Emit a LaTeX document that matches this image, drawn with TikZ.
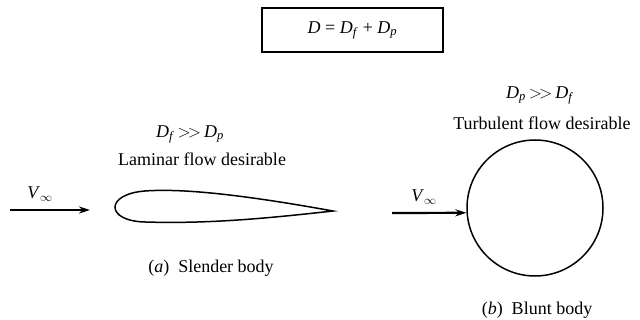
\documentclass[tikz,border=0pt]{standalone}
\usepackage{fontspec}
\setmainfont{Liberation Serif}
\usetikzlibrary{arrows.meta}

\newcommand{\qty}[2]{\textit{#1}\textsubscript{\textit{#2}}}
\newcommand{\much}{\kern3pt${>}\mkern-3mu{>}$\kern3pt}

\tikzset{
  flowarrow/.style={-{Stealth[length=11pt,width=7pt]}, line width=2.2pt},
  lbl/.style={font=\fontsize{18}{21}\selectfont},
}

\begin{document}
\begin{tikzpicture}[x=1pt, y=-1pt]
  \useasboundingbox (0,0) rectangle (640,320);

  %% Total drag
  \node[draw, line width=1.6pt, minimum width=181pt, minimum height=44pt, lbl]
    (total) at (352.5,30) {\textit{D} = \qty{D}{f} + \qty{D}{p}};

  %% Slender body
  \node[lbl] (ratioa) at (190,134) {\qty{D}{f}\much\qty{D}{p}};
  \node[lbl] (lama) at (202,159) {Laminar flow desirable};

  \draw[line width=1.5pt]
    (333,211) .. controls (250,196) and (185,188) .. (145,191)
              .. controls (105,194) and (105,221) .. (145,222)
              .. controls (210,224) and (270,218) .. (333,211) -- cycle;
  \coordinate (taila) at (10,210);
  \coordinate (heada) at (90,210);
  \draw[flowarrow] (taila) -- (heada);
  \node[lbl] (va) at (40,194) {\qty{V}{$\infty$}};

  \node[lbl] (capa) at (211,268) {(\textit{a})\enspace Slender body};

  %% Blunt body
  \node[lbl] (ratiob) at (540,95) {\qty{D}{p}\much\qty{D}{f}};
  \node[lbl] (turb) at (542,123) {Turbulent flow desirable};

  \node[draw, circle, line width=1.5pt, minimum size=136pt, inner sep=0pt]
    (cyl) at (535,208) {};
  \coordinate (tailb) at (392,213);
  \draw[flowarrow] (tailb) -- (cyl.184);
  \node[lbl] (vb) at (424,197) {\qty{V}{$\infty$}};

  \node[lbl] (capb) at (537,310) {(\textit{b})\enspace Blunt body};

\end{tikzpicture}
\end{document}
